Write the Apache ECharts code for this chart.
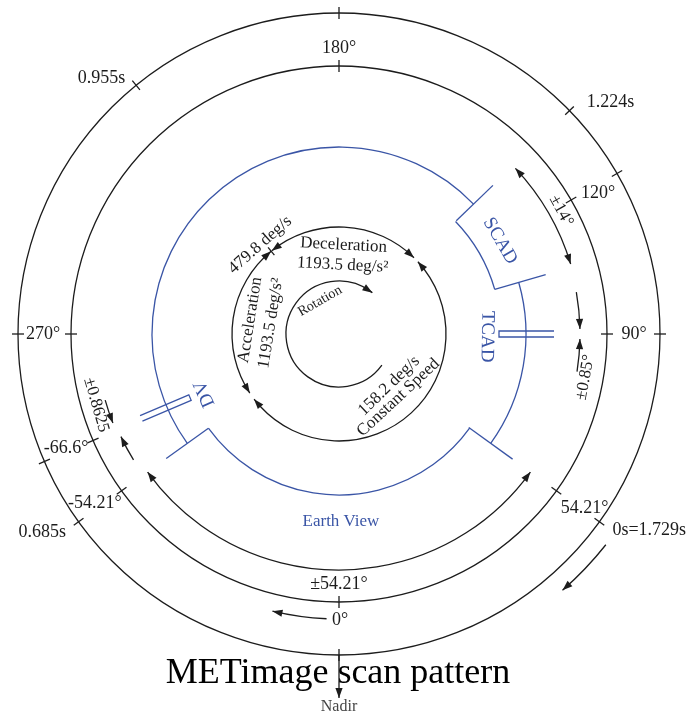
<!DOCTYPE html>
<html>
<head>
<meta charset="utf-8">
<title>METimage scan pattern</title>
<script src="https://cdn.jsdelivr.net/npm/echarts@6/dist/echarts.min.js"></script>
<style>
  html, body { margin: 0; padding: 0; background: #fff; }
  #chart { width: 689px; height: 718px; }
</style>
</head>
<body>
<div id="chart"></div>
<script>
// Scan angle in degrees: 0 = nadir (bottom), 90 = right, 180 = top, 270 / -90 = left.
// Radius in diagram units.

/* ---------------- data ---------------- */
// the two scale rings
const ringRadii = [268, 321];
// ticks on the angle ring and on the time ring
const angleTicks = [0, 54.21, 90, 120, 180, 270, -54.21, -66.6];
const timeTicks = [0, 54.21, 90, 120, 134.1, 180, 219.2, 270, -54.21, -66.6];

// scan speed profile arcs [radius, from, to], arrow heads at both ends
const profileArcs = [
  [107, 218.9, 135.5],   // deceleration
  [107, 132.5, -52.5],   // constant speed
  [107, -56.5, -140.6]   // acceleration
];
const profileJoint = [[107, 219.3]];
// rotation sense arc [radius, from, to], head at the end
const rotationArc = [[53, 54, -219]];

// double headed range arrows [radius, from, to]
const rangeArrows = [
  [242, 133.2, 106.8],   // ±14° SCAD
  [236, 54.2, -54.2]     // ±54.21° earth view
];
// single headed arrows [radius, from, to]
const pointArrows = [
  [241, 100, 91.2], [241, 81, 88.8],       // TCAD
  [243, -74.2, -68.5], [241, -58.5, -64.8], // DV
  [285, -2.5, -13.5],                      // scan direction at nadir
  [340, 51.7, 41.1]                        // time direction
];
// radial arrow [angle, from radius, to radius]
const nadirArrow = [[0, 321, 364]];

// blue instrument outline
const blueArcs = [
  [187, 54.21, 106],
  [187, 134, 305.79],
  [162, 106, 134],       // SCAD
  [161, -54.21, 54.21]   // Earth View
];
const blueRadials = [[54.21, 160, 214], [-54.21, 161, 213], [106, 162, 215], [134, 163, 214]];
const blueSlots = [[90, 160, 215], [-66.9, 162, 215]];   // TCAD, DV

// labels [radius, angle]
const scaleLabelText = ['180°', '270°', '90°', '120°', '54.21°', '-54.21°', '-66.6°', '±54.21°', '0°'];
const scaleLabelPos = [[286, 180], [296, 270], [295, 90], [295, 118.6], [301, 54.7], [297, -55.3], [296, -67.2], [250, 0], [286, 0.2]];
const timeLabelText = ['0s=1.729s', '0.685s', '0.955s', '1.224s'];
const timeLabelPos = [[367, 57.7], [357, -56.2], [349, 222.9], [357, 130.5]];
// read clockwise round the ring
const outLabelText = ['479.8 deg/s', 'Deceleration', '1193.5 deg/s²', 'Acceleration', '1193.5 deg/s²', '±14°'];
const outLabelPos = [[119, 221.5], [89, 177], [69, 177], [90, 261], [69, 261], [254, 119]];
const rotLabelText = ['Rotation'];
const rotLabelPos = [[38, 210]];
// read anticlockwise round the ring
const inLabelText = ['158.2 deg/s', 'Constant Speed', '±0.85°', '±0.8625'];
const inLabelPos = [[72, 44], [87, 43], [250, 80], [253, -73.7]];
const blueLabelText = ['SCAD', 'TCAD', 'DV'];
const blueLabelPos = [[186, 120], [148, 89], [147, -66]];
const earthLabelText = ['Earth View'];
const earthLabelPos = [[188, 0.6]];
const nadirLabelText = ['Nadir'];
const nadirLabelPos = [[373, 0]];

/* ---------------- drawing ---------------- */
const BLACK = '#1c1c1c';
const BLUE = '#3a55a6';
const LW = 1.3;
const FONT = 'Liberation Serif';
const HEAD_L = 10, HEAD_W = 3.6;

function norm(a) { return ((a + 180) % 360 + 360) % 360 - 180; }
function pt(api, r, a) { return api.coord([r, norm(a)]); }

function arcEl(api, r, from, to, color) {
  const c = api.coord([0, 0]), p1 = pt(api, r, from), p2 = pt(api, r, to);
  return {
    type: 'arc',
    shape: {
      cx: c[0], cy: c[1], r: Math.hypot(p1[0] - c[0], p1[1] - c[1]),
      startAngle: Math.atan2(p1[1] - c[1], p1[0] - c[0]),
      endAngle: Math.atan2(p2[1] - c[1], p2[0] - c[0]),
      clockwise: to < from
    },
    style: { stroke: color, lineWidth: LW, fill: 'none' }
  };
}

function headFrom(t, b, color) {
  let dx = t[0] - b[0], dy = t[1] - b[1];
  const len = Math.hypot(dx, dy) || 1;
  dx /= len; dy /= len;
  const bx = t[0] - dx * HEAD_L, by = t[1] - dy * HEAD_L;
  return {
    type: 'polygon',
    shape: { points: [[t[0], t[1]], [bx - dy * HEAD_W, by + dx * HEAD_W], [bx + dy * HEAD_W, by - dx * HEAD_W]] },
    style: { fill: color }
  };
}
// arrow head on an arc, tip at angle `tip`, arc coming from the side of `toward`
function arcHead(api, r, tip, toward, color) {
  const step = HEAD_L / r * 180 / Math.PI;
  const back = tip + (toward > tip ? step : -step);
  return headFrom(pt(api, r, tip), pt(api, r, back), color);
}

function arcSeries(data, color, heads) {
  return {
    type: 'custom', coordinateSystem: 'polar', silent: true, data: data,
    renderItem: function (params, api) {
      const r = api.value(0), from = api.value(1), to = api.value(2);
      const children = [arcEl(api, r, from, to, color)];
      if (heads === 'both' || heads === 'end') children.push(arcHead(api, r, to, from, color));
      if (heads === 'both') children.push(arcHead(api, r, from, to, color));
      return { type: 'group', children: children };
    }
  };
}

function ringSeries(data) {
  return {
    type: 'custom', coordinateSystem: 'polar', silent: true,
    data: data.map(function (r) { return [r, 0]; }),
    renderItem: function (params, api) {
      const c = api.coord([0, 0]), p = api.coord([api.value(0), 0]);
      return {
        type: 'circle',
        shape: { cx: c[0], cy: c[1], r: Math.hypot(p[0] - c[0], p[1] - c[1]) },
        style: { fill: 'none', stroke: BLACK, lineWidth: LW }
      };
    }
  };
}

function tickSeries(data, half) {
  return {
    type: 'custom', coordinateSystem: 'polar', silent: true, data: data,
    renderItem: function (params, api) {
      const r = api.value(0), a = api.value(1);
      const p1 = pt(api, r - half, a), p2 = pt(api, r + half, a);
      return {
        type: 'line',
        shape: { x1: p1[0], y1: p1[1], x2: p2[0], y2: p2[1] },
        style: { stroke: BLACK, lineWidth: LW }
      };
    }
  };
}

function radialSeries(data, color, withHead) {
  return {
    type: 'custom', coordinateSystem: 'polar', silent: true, data: data,
    renderItem: function (params, api) {
      const a = api.value(0), r1 = api.value(1), r2 = api.value(2);
      const p1 = pt(api, r1, a), p2 = pt(api, r2, a);
      const children = [{
        type: 'line',
        shape: { x1: p1[0], y1: p1[1], x2: p2[0], y2: p2[1] },
        style: { stroke: color, lineWidth: LW }
      }];
      if (withHead) children.push(headFrom(p2, pt(api, r2 - HEAD_L, a), color));
      return { type: 'group', children: children };
    }
  };
}

function slotSeries(data, color, half) {
  return {
    type: 'custom', coordinateSystem: 'polar', silent: true, data: data,
    renderItem: function (params, api) {
      const a = api.value(0), p1 = pt(api, api.value(1), a), p2 = pt(api, api.value(2), a);
      let ux = p2[0] - p1[0], uy = p2[1] - p1[1];
      const len = Math.hypot(ux, uy); ux /= len; uy /= len;
      const nx = -uy * half, ny = ux * half;
      return {
        type: 'polyline',
        shape: { points: [[p2[0] + nx, p2[1] + ny], [p1[0] + nx, p1[1] + ny], [p1[0] - nx, p1[1] - ny], [p2[0] - nx, p2[1] - ny]] },
        style: { stroke: color, lineWidth: LW, fill: 'none' }
      };
    }
  };
}

// mode: 'h' horizontal, 'cw' tangent read clockwise, 'ccw' tangent read anticlockwise
function labelSeries(pos, texts, mode, color, size) {
  return {
    type: 'custom', coordinateSystem: 'polar', silent: true, data: pos,
    renderItem: function (params, api) {
      const r = api.value(0), a = api.value(1);
      const p = pt(api, r, a);
      let rot = 0;
      if (mode !== 'h') {
        const s = mode === 'cw' ? -1 : 1;
        const q1 = pt(api, r, a - s * 2), q2 = pt(api, r, a + s * 2);
        rot = -Math.atan2(q2[1] - q1[1], q2[0] - q1[0]);
      }
      return {
        type: 'text', x: p[0], y: p[1], rotation: rot,
        style: {
          text: texts[params.dataIndex], fill: color, fontSize: size, fontFamily: FONT,
          align: 'center', verticalAlign: 'middle'
        }
      };
    }
  };
}

const chart = echarts.init(document.getElementById('chart'), null, { renderer: 'canvas' });
chart.setOption({
  animation: false,
  backgroundColor: '#ffffff',
  polar: { center: [339, 334], radius: 400 },
  angleAxis: { type: 'value', min: -180, max: 180, startAngle: 90, clockwise: false, show: false },
  radiusAxis: { type: 'value', min: 0, max: 400, show: false },
  graphic: [{
    type: 'text', x: 338, y: 674,
    style: { text: 'METimage scan pattern', fontSize: 36, fontFamily: FONT, fill: '#000', align: 'center', verticalAlign: 'middle' }
  }],
  series: [
    ringSeries(ringRadii),
    tickSeries(angleTicks.map(function (a) { return [ringRadii[0], a]; }), 6),
    tickSeries(timeTicks.map(function (a) { return [ringRadii[1], a]; }), 6),
    tickSeries(profileJoint, 5),
    arcSeries(profileArcs, BLACK, 'both'),
    arcSeries(rotationArc, BLACK, 'end'),
    arcSeries(rangeArrows, BLACK, 'both'),
    arcSeries(pointArrows, BLACK, 'end'),
    radialSeries(nadirArrow, BLACK, true),
    arcSeries(blueArcs, BLUE, 'none'),
    radialSeries(blueRadials, BLUE, false),
    slotSeries(blueSlots, BLUE, 3),
    labelSeries(scaleLabelPos, scaleLabelText, 'h', BLACK, 18),
    labelSeries(timeLabelPos, timeLabelText, 'h', BLACK, 18),
    labelSeries(outLabelPos, outLabelText, 'cw', BLACK, 17),
    labelSeries(rotLabelPos, rotLabelText, 'cw', BLACK, 14),
    labelSeries(inLabelPos, inLabelText, 'ccw', BLACK, 17),
    labelSeries(blueLabelPos, blueLabelText, 'cw', BLUE, 19),
    labelSeries(earthLabelPos, earthLabelText, 'h', BLUE, 17),
    labelSeries(nadirLabelPos, nadirLabelText, 'h', '#444', 16)
  ]
});
window.onresize = function () { chart.resize(); };
</script>
</body>
</html>
